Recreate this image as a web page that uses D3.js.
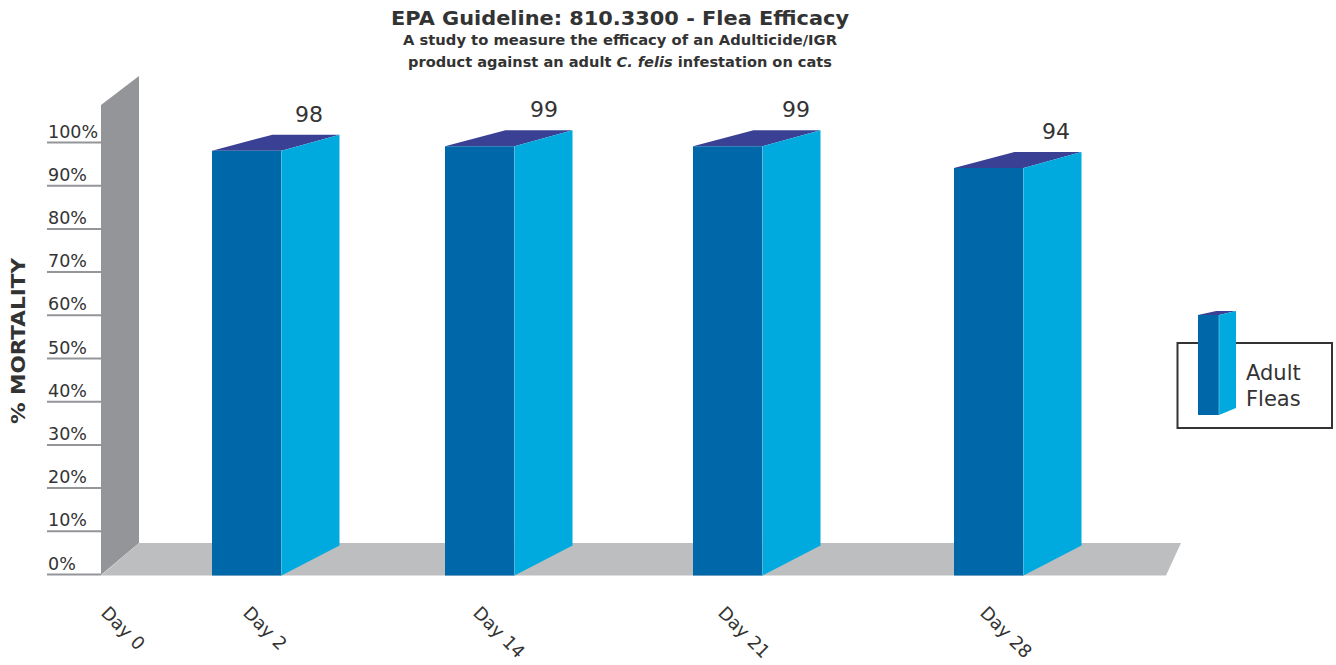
<!DOCTYPE html>
<html>
<head>
<meta charset="utf-8">
<script src="https://d3js.org/d3.v7.min.js"></script>
<style>
  html, body { margin: 0; padding: 0; background: #fff; }
  text { font-family: "DejaVu Sans", sans-serif; fill: #333; }
  .title { font-weight: bold; text-anchor: middle; }
</style>
</head>
<body>
<div id="svgContainer"></div>
<script>
var days = ["Day 0", "Day 2", "Day 14", "Day 21", "Day 28"];
var adultFleas = [null, 98, 99, 99, 94];
var mortalityTicks = [0, 10, 20, 30, 40, 50, 60, 70, 80, 90, 100];

var width = 1336;
var height = 665;
var barWidth = 69.5;
var sideDx = 58;      // depth of the bar's side face
var sideRiseTop = 16;
var sideRiseBottom = 30;

var colorFront = "#0067a8";
var colorSide = "#00aade";
var colorTop = "#3a4093";
var colorWall = "#939598";
var colorFloor = "#bcbec0";

var svg = d3.select("#svgContainer")
    .append("svg")
    .attr("width", width)
    .attr("height", height)
    .style("display", "block");

// the days are not evenly spaced along the floor
var x = d3.scaleOrdinal().domain(days).range([100, 212, 445, 693, 954]);
var xDayLabel = d3.scaleOrdinal().domain(days).range([100, 242, 472, 717, 979]);
var xValueLabel = d3.scaleOrdinal().domain(days).range([100, 309, 544, 796, 1056]);
var y = d3.scaleLinear().domain([0, 100]).range([574, 142]);

function polygon(points, fill) {
    return svg.append("polygon")
        .attr("points", points.map(function(p) { return p.join(","); }).join(" "))
        .attr("fill", fill);
}

// wall and floor of the 3d box
polygon([[101, 105], [139, 76], [139, 543], [101, 575]], colorWall);
polygon([[101, 575.5], [139, 543], [1181, 543], [1166, 575.5]], colorFloor);

// y axis, ticks drawn out to the left of the wall
var yAxis = d3.axisLeft(y)
    .tickValues(mortalityTicks)
    .tickSize(54)
    .tickPadding(0)
    .tickFormat(function(d) { return d + "%"; });

var axisG = svg.append("g")
    .attr("transform", "translate(101,0)")
    .call(yAxis);
axisG.select(".domain").remove();
axisG.selectAll(".tick line")
    .attr("stroke", colorWall)
    .attr("stroke-width", 2);
axisG.selectAll(".tick text")
    .attr("x", -53)
    .attr("dy", -5)
    .attr("text-anchor", "start")
    .attr("font-size", 17.5)
    .attr("font-family", "DejaVu Sans")
    .attr("fill", "#333");

function drawBar(left, top, bottom, w, dx, riseTop, riseBottom) {
    var right = left + w;
    polygon([[left, top], [right, top], [right + dx, top - riseTop], [left + w * 0.87, top - riseTop]], colorTop);
    polygon([[right, top], [right + dx, top - riseTop], [right + dx, bottom - riseBottom], [right, bottom]], colorSide);
    polygon([[left, top], [right, top], [right, bottom], [left, bottom]], colorFront);
    svg.append("line")
        .attr("x1", right).attr("x2", right)
        .attr("y1", top).attr("y2", bottom)
        .attr("stroke", "#5cc0e6")
        .attr("stroke-width", 0.8);
}

days.forEach(function(day, i) {
    if (adultFleas[i] === null) return;
    drawBar(x(day), y(adultFleas[i]), 575.5, barWidth, sideDx, sideRiseTop, sideRiseBottom);
    svg.append("text")
        .attr("x", xValueLabel(day))
        .attr("y", y(adultFleas[i]) - 29)
        .attr("text-anchor", "middle")
        .attr("font-size", 22)
        .text(adultFleas[i]);
});

// day labels, slanted down to the right
days.forEach(function(day) {
    svg.append("text")
        .attr("transform", "translate(" + xDayLabel(day) + ",614) rotate(45)")
        .attr("font-size", 18)
        .text(day);
});

svg.append("text")
    .attr("transform", "translate(25,341) rotate(-90)")
    .attr("text-anchor", "middle")
    .attr("font-size", 19)
    .attr("font-weight", "bold")
    .attr("textLength", 166)
    .attr("lengthAdjust", "spacingAndGlyphs")
    .text("% MORTALITY");

svg.append("text").attr("class", "title")
    .attr("x", 620).attr("y", 25)
    .attr("font-size", 19)
    .attr("textLength", 458)
    .attr("lengthAdjust", "spacingAndGlyphs")
    .text("EPA Guideline: 810.3300 - Flea Efficacy");
svg.append("text").attr("class", "title")
    .attr("x", 620).attr("y", 45)
    .attr("font-size", 14.5)
    .attr("textLength", 434)
    .attr("lengthAdjust", "spacingAndGlyphs")
    .text("A study to measure the efficacy of an Adulticide/IGR");
var sub = svg.append("text").attr("class", "title")
    .attr("x", 620).attr("y", 67)
    .attr("font-size", 14.5)
    .attr("textLength", 424)
    .attr("lengthAdjust", "spacingAndGlyphs");
sub.append("tspan").text("product against an adult ");
sub.append("tspan").attr("font-style", "italic").text("C. felis");
sub.append("tspan").text(" infestation on cats");

// legend
svg.append("rect")
    .attr("x", 1177.5).attr("y", 343)
    .attr("width", 154.5).attr("height", 85)
    .attr("fill", "#fff")
    .attr("stroke", "#333")
    .attr("stroke-width", 2);
drawBar(1198, 315, 415, 21, 17, 4, 7);
svg.append("text").attr("x", 1246).attr("y", 380).attr("font-size", 21).text("Adult");
svg.append("text").attr("x", 1246).attr("y", 406).attr("font-size", 21).text("Fleas");
</script>
</body>
</html>
